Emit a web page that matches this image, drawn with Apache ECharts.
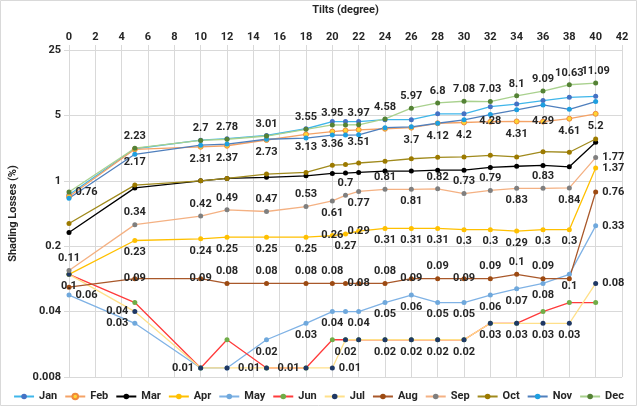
<!DOCTYPE html>
<html>
<head>
<meta charset="utf-8">
<title>Shading Losses</title>
<script src="https://cdn.jsdelivr.net/npm/echarts@6/dist/echarts.min.js"></script>
<style>
    html, body { margin: 0; padding: 0; background: #fff; }
    #report { width: 637px; height: 406px; }
</style>
</head>
<body>
<div id="report"></div>
<script>
// tilt angles (degree) on the x axis
var tilts = [0, 5, 10, 12, 15, 18, 20, 21, 22, 24, 26, 28, 30, 32, 34, 36, 38, 40];
var months = ['Jan', 'Feb', 'Mar', 'Apr', 'May', 'Jun', 'Jul', 'Aug', 'Sep', 'Oct', 'Nov', 'Dec'];

// shading losses (%) per month
var jan = [0.71, 2.2, 2.72, 2.82, 3.05, 3.6, 4.3, 4.3, 4.3, 4.5, 4.5, 5.2, 5.2, 6.2, 6.6, 7.2, 7.8, 8.0];
var feb = [0.68, 2.17, 2.31, 2.37, 2.73, 3.13, 3.36, 3.45, 3.51, 3.6, 3.7, 4.12, 4.2, 4.28, 4.31, 4.29, 4.61, 5.2];
var mar = [0.28, 0.84, 1.0, 1.06, 1.09, 1.13, 1.2, 1.21, 1.23, 1.27, 1.27, 1.3, 1.3, 1.39, 1.43, 1.46, 1.41, 2.58];
var apr = [0.1, 0.23, 0.24, 0.25, 0.25, 0.25, 0.26, 0.27, 0.29, 0.31, 0.31, 0.31, 0.3, 0.3, 0.29, 0.3, 0.3, 1.37];
var may = [0.06, 0.03, 0.01, 0.01, 0.02, 0.03, 0.04, 0.04, 0.04, 0.05, 0.06, 0.05, 0.05, 0.06, 0.07, 0.08, 0.1, 0.33];
var jun = [0.1, 0.05, 0.01, 0.02, 0.01, 0.01, 0.02, 0.02, 0.02, 0.02, 0.02, 0.02, 0.02, 0.03, 0.03, 0.04, 0.05, 0.05];
var jul = [0.1, 0.04, 0.01, 0.01, 0.01, 0.01, 0.01, 0.02, 0.02, 0.02, 0.02, 0.02, 0.02, 0.03, 0.03, 0.03, 0.03, 0.08];
var aug = [0.073, 0.09, 0.09, 0.08, 0.08, 0.08, 0.08, 0.08, 0.08, 0.08, 0.09, 0.09, 0.09, 0.09, 0.1, 0.09, 0.09, 0.76];
var sep = [0.11, 0.34, 0.42, 0.49, 0.47, 0.53, 0.61, 0.7, 0.77, 0.81, 0.81, 0.82, 0.73, 0.79, 0.83, 0.83, 0.84, 1.77];
var oct = [0.35, 0.9, 1.0, 1.06, 1.18, 1.23, 1.47, 1.49, 1.55, 1.62, 1.72, 1.78, 1.8, 1.87, 1.8, 2.05, 2.02, 2.8];
var nov = [0.65, 1.92, 2.4, 2.47, 2.78, 2.86, 3.08, 3.08, 3.1, 3.7, 3.77, 4.12, 4.49, 5.1, 5.74, 6.47, 5.8, 7.03];
var dec = [0.76, 2.23, 2.7, 2.78, 3.01, 3.55, 3.95, 3.96, 3.97, 4.58, 5.97, 6.8, 7.08, 7.03, 8.1, 9.09, 10.63, 11.09];

var values = [jan, feb, mar, apr, may, jun, jul, aug, sep, oct, nov, dec];

// line colour / marker colour, like the excel chart
var styles = [
    {line: '#3fb6ea', dot: '#4472c4'},
    {line: '#f4a266', dot: '#ffd633', border: '#f08a3c'},
    {line: '#000000', dot: '#000000'},
    {line: '#ffc000', dot: '#ffc000'},
    {line: '#7fb2e5', dot: '#6fa8dc'},
    {line: '#ff3b3b', dot: '#70ad47'},
    {line: '#ffe08a', dot: '#1f3864'},
    {line: '#a9582a', dot: '#9c4a12'},
    {line: '#f4b183', dot: '#7f7f7f'},
    {line: '#a08a1c', dot: '#9c7a00'},
    {line: '#4f7fbd', dot: '#1e9fe0'},
    {line: '#a9d18e', dot: '#548235'}
];

// where the value labels go (index into tilts)
var labelCfg = {
    Feb: {pos: 'bottom', at: {13: 'inside', 15: 'inside'}, hide: [0, 7, 9]},
    Apr: {pos: 'bottom', at: {6: 'inside', 8: 'inside', 17: 'right'}, hide: [0]},
    May: {pos: 'bottom', at: {0: 'right', 1: 'left', 17: 'right'}, hide: [2, 3, 7]},
    Jul: {pos: 'bottom', at: {1: 'left', 2: 'left', 4: 'left', 5: 'left', 6: 'right', 17: 'right'}, hide: [3, 8]},
    Aug: {pos: 'top', at: {1: 'inside', 2: 'inside', 8: 'inside', 10: 'inside', 12: 'inside', 17: 'right'}, hide: [0, 7, 16]},
    Sep: {pos: 'top', at: {6: 'bottom', 8: 'bottom', 10: 'bottom', 14: 'bottom', 16: 'bottom', 17: 'right'}, hide: []},
    Dec: {pos: 'top', at: {0: 'right'}, hide: [7]}
};

var font = 'Roboto, "Liberation Sans", sans-serif';
var txt = {fontFamily: font, fontSize: 11, fontWeight: 'bold', color: '#262626'};

function buildSeries(idx) {
    var name = months[idx];
    var st = styles[idx];
    var cfg = labelCfg[name];
    var data = [];
    for (var i = 0; i < tilts.length; i++) {
        var item = {value: [tilts[i], values[idx][i]]};
        if (cfg && cfg.hide.indexOf(i) < 0) {
            item.label = {show: true, position: cfg.at[i] || cfg.pos};
        }
        data.push(item);
    }
    return {
        name: name,
        type: 'line',
        data: data,
        symbol: 'circle',
        symbolSize: 5,
        showAllSymbol: true,
        lineStyle: {color: st.line, width: 1.3},
        itemStyle: {color: st.dot, borderColor: st.border || st.dot, borderWidth: st.border ? 1 : 0},
        label: {
            show: false,
            distance: 4,
            fontFamily: font,
            fontSize: 11,
            fontWeight: 'bold',
            color: '#262626',
            formatter: function (p) { return p.value[1]; }
        },
        emphasis: {disabled: true},
        animation: false
    };
}

var series = [];
for (var k = 0; k < months.length; k++) {
    series.push(buildSeries(k));
}

var myChart = echarts.init(document.getElementById('report'));
var option = {
    backgroundColor: '#fff',
    animation: false,
    textStyle: {fontFamily: font},
    graphic: [{
        type: 'rect',
        shape: {x: 0.5, y: 0.5, width: 636, height: 405},
        style: {fill: 'none', stroke: '#d9d9d9', lineWidth: 1}
    }],
    legend: {
        bottom: 4,
        left: 'center',
        padding: 0,
        itemWidth: 20,
        itemHeight: 7,
        itemGap: 7,
        data: months,
        textStyle: txt
    },
    grid: {
        left: 63,
        right: 15,
        top: 42,
        bottom: 29,
        containLabel: false
    },
    xAxis: {
        type: 'value',
        position: 'top',
        min: 0,
        max: 42,
        interval: 2,
        name: 'Tilts (degree)',
        nameLocation: 'middle',
        nameGap: 34,
        nameTextStyle: txt,
        axisLine: {show: false},
        axisTick: {show: true, length: 5, lineStyle: {color: '#d9d9d9'}},
        axisLabel: {fontFamily: font, fontSize: 11, fontWeight: 'bold', color: '#262626', margin: 7},
        splitLine: {show: true, lineStyle: {color: '#d9d9d9'}}
    },
    yAxis: {
        type: 'log',
        logBase: 5,
        min: 0.008,
        max: 25,
        name: 'Shading Losses (%)',
        nameLocation: 'middle',
        nameGap: 50,
        nameTextStyle: txt,
        axisLine: {show: true, lineStyle: {color: '#d9d9d9'}},
        axisTick: {show: true, length: 5, lineStyle: {color: '#d9d9d9'}},
        axisLabel: {
            fontFamily: font, fontSize: 11, fontWeight: 'bold', color: '#262626', margin: 8,
            formatter: function (v) { return parseFloat(v.toPrecision(4)); }
        },
        splitLine: {show: true, lineStyle: {color: '#d9d9d9'}}
    },
    series: series
};
myChart.setOption(option);
</script>
</body>
</html>
